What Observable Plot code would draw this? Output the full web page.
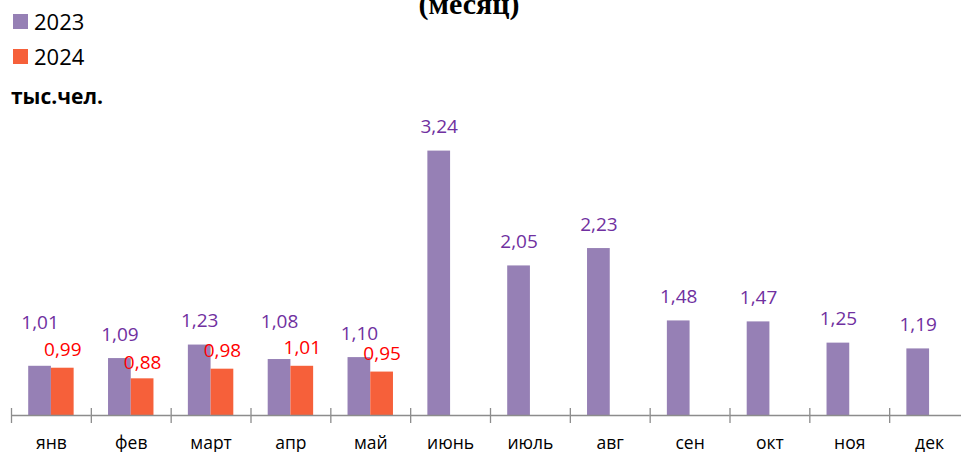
<!DOCTYPE html>
<html>
<head>
<meta charset="utf-8">
<script src="https://cdn.jsdelivr.net/npm/d3@7"></script>
<script src="https://cdn.jsdelivr.net/npm/@observablehq/plot@0.6"></script>
<style>
  html, body { margin: 0; padding: 0; background: #fff; overflow: hidden; width: 961px; height: 452px; }
  #wrap { position: relative; width: 961px; height: 452px; overflow: hidden; }
  #chart { position: absolute; left: 0; top: 0; width: 980px; }
  #chart svg { max-width: none !important; }
  #titlesvg { position: absolute; left: 0; top: 0; overflow: visible; }
  .ov { position: absolute; white-space: nowrap; line-height: 1; }
  .leg { font-family: "Open Sans", sans-serif; font-size: 22px; color: #000; }
  .sw { position: absolute; width: 15px; height: 15px; }
  .unit { font-family: "Open Sans", sans-serif; font-weight: bold; font-size: 21px; left: 11px; top: 86px; color: #000; }
</style>
</head>
<body>
<div id="wrap">
  <div id="chart"></div>
  <svg id="titlesvg" width="961" height="40">
    <text x="469" y="14" text-anchor="middle" font-family="Liberation Serif, serif" font-weight="bold" font-size="30">(месяц)</text>
  </svg>
  <div class="sw" id="sw0" style="left:13px; top:13.5px;"></div>
  <div class="ov leg" id="lg0" style="left:34px; top:9.5px;"></div>
  <div class="sw" id="sw1" style="left:13px; top:48.5px;"></div>
  <div class="ov leg" id="lg1" style="left:34px; top:44.5px;"></div>
  <div class="ov unit">тыс.чел.</div>
</div>
<script>
const months = ["янв","фев","март","апр","май","июнь","июль","авг","сен","окт","ноя","дек"];
const years = ["2023","2024"];
const values2023 = [1.01,1.09,1.23,1.08,1.10,3.24,2.05,2.23,1.48,1.47,1.25,1.19];
const values2024 = [0.99,0.88,0.98,1.01,0.95];

const barColors = ["#9680b5","#f6603a"];
const labelColors = ["#7030a0","#ff0000"];
const yMin = 0.5;

// label placement (style): default lift per year, plus manual lifts to avoid overlap
const defaultDy = {"2023": -24, "2024": -18};
const dyOverride = {"2023|янв": -43, "2023|апр": -38, "2024|фев": -16};

const data = [];
values2023.forEach((v, i) => data.push({month: months[i], year: "2023", value: v}));
values2024.forEach((v, i) => data.push({month: months[i], year: "2024", value: v}));

const fmt = v => v.toFixed(2).replace(".", ",");
const dyOf = d => dyOverride[d.year + "|" + d.month] ?? defaultDy[d.year];

const labelMarks = [];
years.forEach((yr, yi) => {
  const groups = d3.group(data.filter(d => d.year === yr), dyOf);
  for (const [dy, rows] of groups) {
    labelMarks.push(Plot.text(rows, {
      fx: "month", x: "year", y: "value",
      text: d => fmt(d.value),
      dy: dy, fill: labelColors[yi],
      fontSize: 19, lineAnchor: "middle", fontFamily: "Open Sans"
    }));
  }
});

const W = 970, ML = 11, MR = 1;
const halfBand = (W - ML - MR) / months.length / 2;

const chart = Plot.plot({
  width: W, height: 452,
  marginLeft: ML, marginRight: MR, marginTop: 29, marginBottom: 37,
  fx: {domain: months, padding: 0, paddingInner: 0, paddingOuter: 0, round: false, label: null},
  x: {domain: years, paddingInner: 0, paddingOuter: 0.757, round: false, axis: null},
  y: {domain: [yMin, 4.5], axis: null},
  color: {domain: years, range: barColors},
  style: {fontFamily: "Open Sans", fontSize: "17.5px", color: "#000", background: "transparent", maxWidth: "none"},
  marks: [
    Plot.barY(data, {fx: "month", x: "year", y1: yMin, y2: "value", fill: "year"}),
    Plot.ruleY([yMin], {stroke: "#8c8c8c", strokeWidth: 1.3}),
    Plot.axisFx({anchor: "bottom", tickSize: 0, tickPadding: 21, label: null, fontSize: 17.5, fill: "#000"}),
    Plot.axisFx({anchor: "bottom", text: null, tickSize: 15, dy: -7, dx: -halfBand, stroke: "#8c8c8c", strokeWidth: 1.3, label: null}),
    ...labelMarks
  ]
});
document.getElementById("chart").appendChild(chart);

years.forEach((yr, i) => {
  document.getElementById("sw" + i).style.background = barColors[i];
  document.getElementById("lg" + i).textContent = yr;
});
</script>
</body>
</html>
